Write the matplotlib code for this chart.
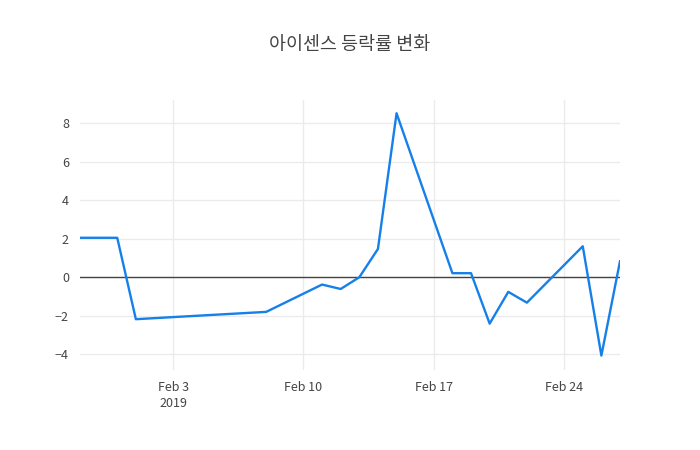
import matplotlib
matplotlib.use('Agg')
import matplotlib.pyplot as plt
import pandas as pd

plt.rcParams['font.family'] = ['Noto Sans CJK KR', 'DejaVu Sans']

dates = ['2019-01-29', '2019-01-30', '2019-01-31', '2019-02-01', '2019-02-08',
         '2019-02-11', '2019-02-12', '2019-02-13', '2019-02-14', '2019-02-15',
         '2019-02-18', '2019-02-19', '2019-02-20', '2019-02-21', '2019-02-22',
         '2019-02-25', '2019-02-26', '2019-02-27']
changes = [2.05, 2.05, 2.05, -2.18, -1.80,
           -0.38, -0.61, 0.0, 1.47, 8.52,
           0.21, 0.21, -2.41, -0.76, -1.32,
           1.61, -4.07, 0.83]
title = '아이센스 등락률 변화'

x = pd.to_datetime(dates)

fig = plt.figure(figsize=(7, 4.5), dpi=100)
ax = fig.add_axes([80/700, 80/450, 540/700, 270/450])

ax.plot(x, changes, color='#1580ea', linewidth=1.7, zorder=3)
ax.axhline(0, color='#444444', linewidth=1, zorder=2)

ax.set_xlim(x[0], x[-1])
ax.set_ylim(-4.82, 9.21)
ax.set_yticks([-4, -2, 0, 2, 4, 6, 8])
ax.set_yticklabels(['\u22124', '\u22122', '0', '2', '4', '6', '8'])

ticks = pd.to_datetime(['2019-02-03', '2019-02-10', '2019-02-17', '2019-02-24'])
ax.set_xticks(ticks)
ax.set_xticklabels(['Feb 3\n2019', 'Feb 10', 'Feb 17', 'Feb 24'])

ax.grid(True, color='#ebebeb', linewidth=1, zorder=0)
for s in ax.spines.values():
    s.set_visible(False)
ax.tick_params(length=0, labelsize=9, colors='#444444', pad=8)
for lbl in ax.get_xticklabels():
    lbl.set_verticalalignment('top')
    lbl.set_linespacing(1.3)

fig.text(0.5, 1 - 45/450, title, ha='center', va='center', fontsize=13.3, color='#444444')

fig.savefig('out.png', dpi=100)
